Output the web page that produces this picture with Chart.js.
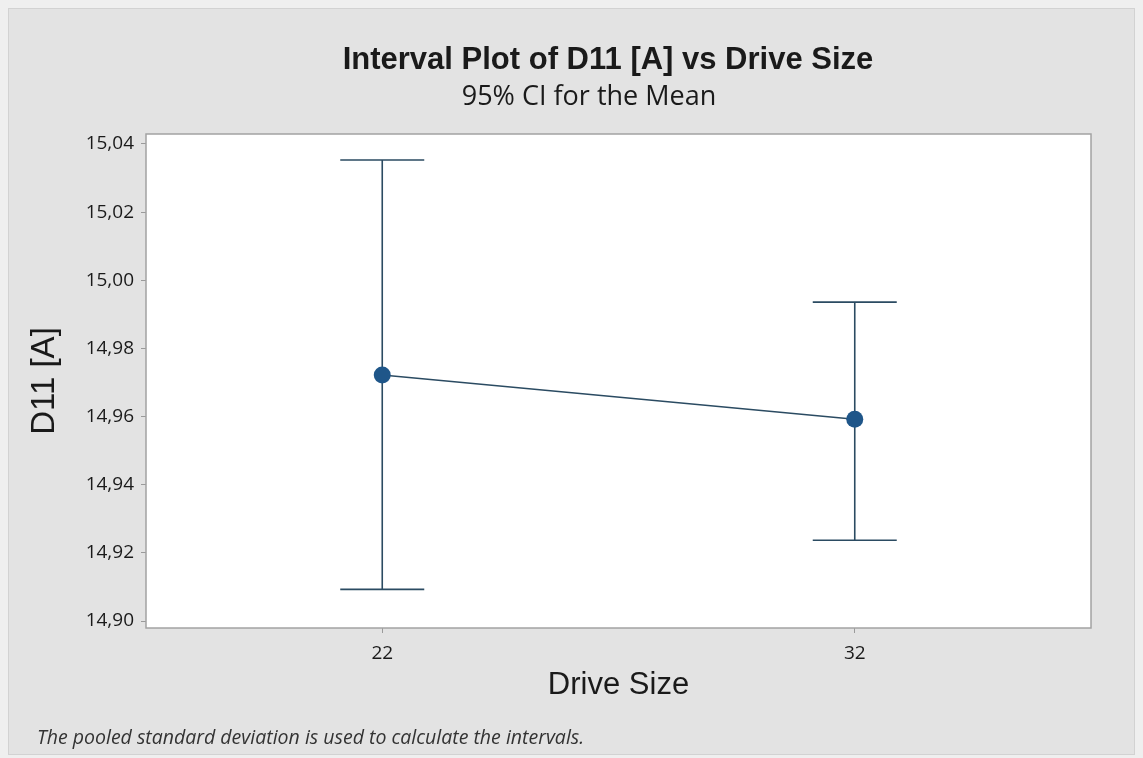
<!DOCTYPE html>
<html>
<head>
<meta charset="utf-8">
<title>Interval Plot of D11 [A] vs Drive Size</title>
<script src="https://cdn.jsdelivr.net/npm/chart.js@4/dist/chart.umd.min.js"></script>
<style>
  html, body { margin: 0; padding: 0; background: #efefef; }
  #wrap { width: 1143px; height: 758px; position: relative; }
  canvas { display: block; }
</style>
</head>
<body>
<div id="wrap"><canvas id="c" width="1143" height="758"></canvas></div>
<script>
// Drive sizes and 95% confidence intervals for mean D11 [A]
const driveSizes = ['22', '32'];
const meanValues = [14.9722, 14.9592];
const lowerCI = [14.9093, 14.9237];
const upperCI = [15.0353, 14.9936];
const yTicks = [14.90, 14.92, 14.94, 14.96, 14.98, 15.00, 15.02, 15.04];

const titleText = 'Interval Plot of D11 [A] vs Drive Size';
const subtitleText = '95% CI for the Mean';
const footnoteText = 'The pooled standard deviation is used to calculate the intervals.';

const lineColor = '#2b4b62';
const markerColor = '#1f5689';
const textColor = '#1a1a1a';

// Grey panel, white data region with grey border, heading and footnote
const framePlugin = {
  id: 'frame',
  beforeDraw(chart) {
    const { ctx, chartArea: a } = chart;
    ctx.save();
    ctx.fillStyle = '#efefef';
    ctx.fillRect(0, 0, chart.width, chart.height);
    ctx.fillStyle = '#e3e3e3';
    ctx.fillRect(8, 8, 1127, 747);
    ctx.strokeStyle = '#d2d2d2';
    ctx.lineWidth = 1;
    ctx.strokeRect(8.5, 8.5, 1126, 746);
    ctx.fillStyle = '#ffffff';
    ctx.fillRect(a.left, a.top, a.right - a.left, a.bottom - a.top);
    ctx.restore();
  },
  afterDraw(chart) {
    const { ctx, chartArea: a } = chart;
    ctx.save();
    ctx.strokeStyle = '#a3a3a3';
    ctx.lineWidth = 1.5;
    ctx.strokeRect(a.left, a.top, a.right - a.left, a.bottom - a.top);

    ctx.fillStyle = textColor;
    ctx.textBaseline = 'middle';
    ctx.textAlign = 'center';
    ctx.font = 'bold 31px "Liberation Sans", Arial, sans-serif';
    ctx.fillText(titleText, 608, 60);
    ctx.font = '27px "Open Sans", sans-serif';
    ctx.fillText(subtitleText, 589, 97);

    ctx.fillStyle = '#333333';
    ctx.font = 'italic 19.5px "Open Sans", sans-serif';
    ctx.textAlign = 'left';
    ctx.fillText(footnoteText, 37, 738);
    ctx.restore();
  }
};

// Vertical interval with end caps for each drive size
const intervalPlugin = {
  id: 'intervals',
  beforeDatasetsDraw(chart) {
    const { ctx, scales: { x, y } } = chart;
    const cap = 42;
    ctx.save();
    ctx.strokeStyle = lineColor;
    ctx.lineWidth = 1.6;
    driveSizes.forEach((d, i) => {
      const px = x.getPixelForValue(i);
      const yl = y.getPixelForValue(lowerCI[i]);
      const yu = y.getPixelForValue(upperCI[i]);
      ctx.beginPath();
      ctx.moveTo(px, yu); ctx.lineTo(px, yl);
      ctx.moveTo(px - cap, yu); ctx.lineTo(px + cap, yu);
      ctx.moveTo(px - cap, yl); ctx.lineTo(px + cap, yl);
      ctx.stroke();
    });
    ctx.restore();
  }
};

new Chart(document.getElementById('c'), {
  type: 'line',
  data: {
    labels: driveSizes,
    datasets: [{
      data: meanValues,
      borderColor: lineColor,
      borderWidth: 1.6,
      pointRadius: 8.5,
      pointHoverRadius: 8.5,
      pointBackgroundColor: markerColor,
      pointBorderColor: markerColor,
      pointBorderWidth: 0,
      tension: 0,
      fill: false
    }]
  },
  plugins: [framePlugin, intervalPlugin],
  options: {
    responsive: false,
    animation: false,
    events: [],
    layout: { padding: { left: 0, right: 52, top: 134, bottom: 0 } },
    plugins: {
      legend: { display: false },
      tooltip: { enabled: false },
      title: { display: false },
      subtitle: { display: false }
    },
    scales: {
      x: {
        type: 'category',
        offset: true,
        afterFit(scale) { scale.height = 130; },
        grid: { display: true, drawOnChartArea: false, drawTicks: true, tickLength: 5, color: '#9a9a9a' },
        border: { display: false },
        ticks: { color: textColor, padding: 9, font: { family: '"Open Sans", sans-serif', size: 19 } },
        title: {
          display: true,
          text: 'Drive Size',
          color: textColor,
          font: { family: '"Liberation Sans", Arial, sans-serif', size: 31, lineHeight: 1.2 },
          padding: { top: 0, bottom: 54 }
        }
      },
      y: {
        min: 14.89795,
        max: 15.04293,
        afterFit(scale) { scale.width = 146; },
        afterBuildTicks(scale) { scale.ticks = yTicks.map(v => ({ value: v })); },
        grid: { display: true, drawOnChartArea: false, drawTicks: true, tickLength: 5, color: '#9a9a9a' },
        border: { display: false },
        ticks: {
          color: textColor,
          padding: 7,
          font: { family: '"Open Sans", sans-serif', size: 19 },
          callback: v => v.toFixed(2).replace('.', ',')
        },
        title: {
          display: true,
          text: 'D11 [A]',
          color: textColor,
          font: { family: '"Liberation Sans", Arial, sans-serif', size: 33, lineHeight: 1.2 },
          padding: { top: 25, bottom: 0 }
        }
      }
    }
  }
});
</script>
</body>
</html>
